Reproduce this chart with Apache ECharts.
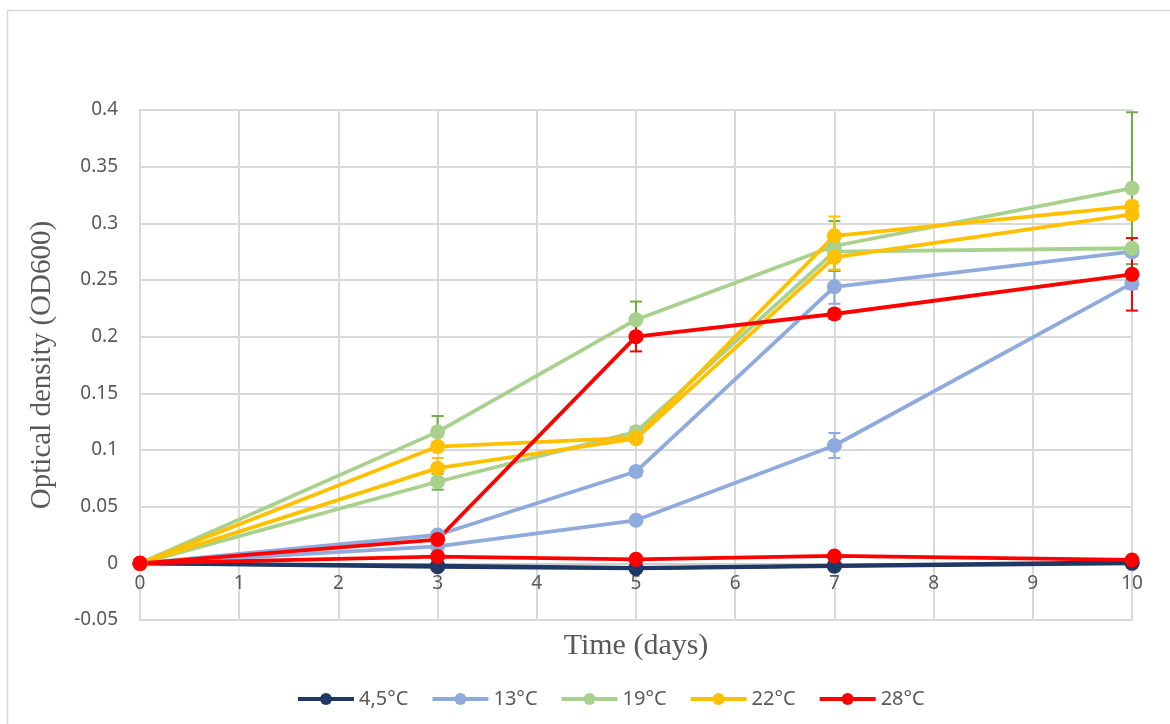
<!DOCTYPE html>
<html>
<head>
<meta charset="utf-8">
<script src="https://cdn.jsdelivr.net/npm/echarts@6/dist/echarts.min.js"></script>
<style>
  html, body { margin: 0; padding: 0; background: #ffffff; }
  #chart { width: 1170px; height: 724px; }
</style>
</head>
<body>
<div id="chart"></div>
<script>
// Sampling days
const days = [0, 3, 5, 7, 10];

// Temperature groups (legend entries) and their colours
const groups = ['4,5°C', '13°C', '19°C', '22°C', '28°C'];
const colors = ['#203864', '#8FAADC', '#A9D18E', '#FFC000', '#FF0000'];
const errColors = ['#203864', '#8FAADC', '#70AD47', '#FFC000', '#FF0000'];

// OD600 values, two cultures per temperature
const od45a = [0, -0.003, -0.0045, -0.0025, 0.0];
const od45b = [0, -0.002, -0.004, -0.002, 0.001];
const od13a = [0, 0.025, 0.081, 0.244, 0.275];
const od13b = [0, 0.015, 0.038, 0.104, 0.247];
const od19a = [0, 0.116, 0.215, 0.280, 0.331];
const od19b = [0, 0.072, 0.116, 0.275, 0.278];
const od22a = [0, 0.103, 0.111, 0.289, 0.315];
const od22b = [0, 0.084, 0.110, 0.270, 0.308];
const od28a = [0, 0.021, 0.200, 0.220, 0.255];
const od28b = [0, 0.006, 0.0035, 0.0065, 0.003];

// Standard deviations
const sd45a = [0, 0.001, 0.001, 0.001, 0.001];
const sd45b = [0, 0.001, 0.001, 0.001, 0.001];
const sd13a = [0, 0.003, 0.004, 0.015, 0.004];
const sd13b = [0, 0.002, 0.003, 0.011, 0.005];
const sd19a = [0, 0.014, 0.016, 0.022, 0.067];
const sd19b = [0, 0.007, 0.004, 0.004, 0.003];
const sd22a = [0, 0.004, 0.003, 0.017, 0.004];
const sd22b = [0, 0.009, 0.003, 0.011, 0.004];
const sd28a = [0, 0.003, 0.013, 0.004, 0.032];
const sd28b = [0, 0.001, 0.001, 0.001, 0.001];

// Axis ranges
const yMin = -0.05, yMax = 0.4, yStep = 0.05;
const xMin = 0, xMax = 10, xStep = 1;

// Plot box
const gridTop = 110, gridBottom = 104, chartH = 724;
const plotH = chartH - gridTop - gridBottom;
// Shift the day axis up so it sits on OD = 0
const zeroOffset = -plotH * (0 - yMin) / (yMax - yMin);

const cultures = [
  { g: 0, v: od45a, sd: sd45a }, { g: 0, v: od45b, sd: sd45b },
  { g: 1, v: od13a, sd: sd13a }, { g: 1, v: od13b, sd: sd13b },
  { g: 2, v: od19a, sd: sd19a }, { g: 2, v: od19b, sd: sd19b },
  { g: 3, v: od22a, sd: sd22a }, { g: 3, v: od22b, sd: sd22b },
  { g: 4, v: od28a, sd: sd28a }, { g: 4, v: od28b, sd: sd28b }
];

const series = [];

// Error bars beneath the lines
cultures.forEach(function (c) {
  const data = days.map(function (d, i) { return [d, c.v[i] - c.sd[i], c.v[i] + c.sd[i]]; });
  const col = errColors[c.g];
  series.push({
    type: 'custom',
    name: groups[c.g] + ' sd',
    z: 1,
    silent: true,
    encode: { x: 0, y: [1, 2] },
    data: data,
    renderItem: function (params, api) {
      const x = api.value(0);
      const lo = api.coord([x, api.value(1)]);
      const hi = api.coord([x, api.value(2)]);
      const cap = 6;
      const style = { stroke: col, lineWidth: 2 };
      return {
        type: 'group',
        children: [
          { type: 'line', shape: { x1: lo[0], y1: lo[1], x2: hi[0], y2: hi[1] }, style: style },
          { type: 'line', shape: { x1: lo[0] - cap, y1: lo[1], x2: lo[0] + cap, y2: lo[1] }, style: style },
          { type: 'line', shape: { x1: hi[0] - cap, y1: hi[1], x2: hi[0] + cap, y2: hi[1] }, style: style }
        ]
      };
    }
  });
});

// Growth curves
cultures.forEach(function (c) {
  series.push({
    type: 'line',
    name: groups[c.g],
    z: 3,
    data: days.map(function (d, i) { return [d, c.v[i]]; }),
    symbol: 'circle',
    symbolSize: 15,
    showAllSymbol: true,
    lineStyle: { color: colors[c.g], width: 3.8 },
    itemStyle: { color: colors[c.g] },
    emphasis: { disabled: true },
    animation: false
  });
});

const chart = echarts.init(document.getElementById('chart'), null, { renderer: 'canvas' });
chart.setOption({
  backgroundColor: '#ffffff',
  animation: false,
  graphic: [{
    type: 'rect',
    shape: { x: 7.5, y: 10.5, width: 1200, height: 760 },
    style: { fill: 'none', stroke: '#d9d9d9', lineWidth: 1.5 },
    silent: true,
    z: 0
  }],
  grid: { left: 140, top: gridTop, right: 38, bottom: gridBottom, containLabel: false },
  legend: {
    data: groups,
    top: 684,
    left: 291,
    itemWidth: 56,
    itemHeight: 15,
    itemGap: 22,
    lineStyle: { width: 4 },
    textStyle: { fontFamily: 'Noto Sans', fontSize: 20, color: '#595959' }
  },
  xAxis: {
    type: 'value',
    min: xMin, max: xMax, interval: xStep,
    offset: zeroOffset,
    name: 'Time (days)',
    nameLocation: 'middle',
    nameGap: 68,
    nameTextStyle: { fontFamily: 'Liberation Serif', fontSize: 30, color: '#595959' },
    axisLine: { onZero: false, lineStyle: { color: '#d0d0d0', width: 2 } },
    axisTick: { show: false },
    axisLabel: { fontFamily: 'Noto Sans', fontSize: 19, color: '#595959', margin: 11 },
    splitLine: { show: true, lineStyle: { color: '#d9d9d9', width: 2 } }
  },
  yAxis: {
    type: 'value',
    min: yMin, max: yMax, interval: yStep,
    name: 'Optical density (OD600)',
    nameLocation: 'middle',
    nameGap: 83,
    nameTextStyle: { fontFamily: 'Liberation Serif', fontSize: 29, color: '#595959' },
    axisLine: { show: true, onZero: false, lineStyle: { color: '#d9d9d9', width: 2 } },
    axisTick: { show: false },
    axisLabel: {
      fontFamily: 'Noto Sans', fontSize: 19, color: '#595959', margin: 22,
      formatter: function (v) { return String(parseFloat(v.toFixed(2))); }
    },
    splitLine: { show: true, lineStyle: { color: '#d9d9d9', width: 2 } }
  },
  series: series
});
</script>
</body>
</html>
